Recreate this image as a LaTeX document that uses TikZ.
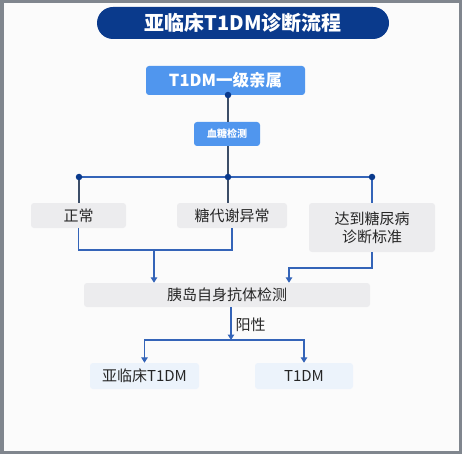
\documentclass[tikz,border=0pt]{standalone}
\usepackage{fontspec}
\setmainfont{Noto Sans CJK SC}
\usetikzlibrary{arrows.meta,positioning}
\definecolor{navy}{RGB}{10,58,140}
\definecolor{skyblue}{RGB}{80,150,238}
\definecolor{linegray}{RGB}{60,78,104}
\definecolor{lineblue}{RGB}{52,100,184}
\definecolor{boxgray}{RGB}{236,236,238}
\definecolor{boxblue}{RGB}{236,243,251}
\definecolor{framegray}{RGB}{128,134,142}

\begin{document}
\begin{tikzpicture}[x=1pt, y=-1pt, every node/.style={font=\fontsize{15}{18}\selectfont, text=black!85},
  title/.style={fill=navy, text=white, rounded corners=16pt, minimum width=292pt, minimum height=32pt, font=\fontsize{20}{22}\selectfont\bfseries},
  bluebox/.style={fill=skyblue, text=white, rounded corners=3pt, inner sep=2pt},
  graybox/.style={fill=boxgray, rounded corners=3pt, align=center, inner sep=2pt},
  paleblue/.style={fill=boxblue, rounded corners=3pt, inner sep=2pt},
  dot/.style={circle, fill=navy, inner sep=0pt, minimum size=6.5pt},
  arr/.style={-{Triangle[length=5.5pt, width=6.5pt]}, draw=lineblue, line width=1.3pt}]
\useasboundingbox (0,0) rectangle (462,454);
\fill[framegray] (0,0) rectangle (462,454);
\fill[white!97!gray] (3.5,3.5) rectangle (458.5,450.5);

\node[title] (head) at (243,23) {亚临床T1DM诊断流程};
\node[bluebox, minimum width=159pt, minimum height=29pt, font=\fontsize{16.5}{18}\selectfont\bfseries] (fam) at (225.5,80.5) {T1DM一级亲属};
\node[bluebox, minimum width=66pt, minimum height=24pt, font=\fontsize{10}{11}\selectfont\bfseries] (glu) at (227,134) {血糖检测};

\node[graybox, minimum width=95pt, minimum height=25pt] (normal) at (78.5,215.5) {正常};
\node[graybox, minimum width=110pt, minimum height=25pt] (abn) at (232,215.5) {糖代谢异常};
\node[graybox, minimum width=126pt, minimum height=49pt] (dm) at (372,227.5) {达到糖尿病\\诊断标准};
\node[graybox, minimum width=286pt, minimum height=24pt] (ab) at (227,295) {胰岛自身抗体检测};
\node[paleblue, minimum width=109pt, minimum height=26pt] (sub) at (144.5,376) {亚临床T1DM};
\node[paleblue, minimum width=98pt, minimum height=26pt] (t1) at (304,376) {T1DM};

% branching from the family node
\coordinate (top) at (228,95);
\coordinate (split) at (228,177);
\coordinate (splitl) at (79,177);
\coordinate (splitr) at (372,177);
\begin{scope}[line width=1.3pt]
\draw[linegray] (top) -- (top |- glu.north);
\draw[linegray] (top |- glu.south) -- (split);
\draw[lineblue] (splitl) -- (splitr);
\draw[linegray] (splitl) -- (splitl |- normal.north);
\draw[linegray] (split) -- (split |- abn.north);
\draw[lineblue] (splitr) -- (splitr |- dm.north);
\end{scope}
\node[dot] (dtop) at (top) {};
\node[dot] (dl) at (splitl) {};
\node[dot] (dm0) at (split) {};
\node[dot] (dr) at (splitr) {};

% merging into the antibody test
\coordinate (mrg) at (154,250);
\coordinate (dmturn) at (289,268);
\draw[lineblue, line width=1.3pt] (normal.south) |- (mrg) -| (abn.south);
\draw[arr] (mrg) -- (mrg |- ab.north);
\draw[arr] (dm.south) |- (dmturn) -- (dmturn |- ab.north);

% positive result
\coordinate (pos) at (231,340);
\draw[arr] (pos |- ab.south) -- (pos);
\node[right=1pt of pos, yshift=15pt] (plus) {阳性};
\draw[arr] (pos) -| (sub.north);
\draw[arr] (pos) -| (t1.north);
\end{tikzpicture}
\end{document}
